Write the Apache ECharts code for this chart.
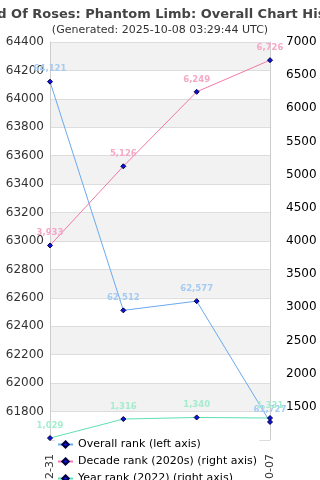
<!DOCTYPE html>
<html>
<head>
<meta charset="utf-8">
<script src="https://cdn.jsdelivr.net/npm/echarts@6/dist/echarts.min.js"></script>
<style>
  html, body { margin: 0; padding: 0; background: #fff; }
  #chart { width: 320px; height: 480px; }
</style>
</head>
<body>
<div id="chart"></div>
<script>
var dates = ['2022-12-31', '2023-12-31', '2024-12-31', '2025-10-07']
var overallRank = [64121, 62512, 62577, 61727]
var decadeRank = [3933, 5126, 6249, 6726]
var yearRank = [1029, 1316, 1340, 1331]

var font = 'DejaVu Sans'

function withComma(v) {
  return String(v).replace(/\B(?=(\d{3})+(?!\d))/g, ',')
}

function plain(v) {
  return String(v)
}

function rankSeries(name, data, axis, lineColor, labelColor) {
  return {
    name: name,
    type: 'line',
    yAxisIndex: axis,
    data: data,
    symbol: 'diamond',
    symbolSize: 5,
    itemStyle: { color: '#1010e0', borderColor: '#000040', borderWidth: 1 },
    lineStyle: { color: lineColor, width: 1 },
    label: {
      show: true,
      position: 'top',
      distance: 5,
      color: labelColor,
      fontFamily: font,
      fontSize: 8.5,
      fontWeight: 'bold',
      formatter: function (p) { return withComma(p.value) }
    },
    animation: false
  }
}

var chart = echarts.init(document.getElementById('chart'))
chart.setOption({
  textStyle: { fontFamily: font },
  title: [{
    text: 'Bed Of Roses: Phantom Limb: Overall Chart History',
    left: 162,
    textAlign: 'center',
    top: 3,
    textStyle: { fontFamily: font, fontSize: 13, fontWeight: 'bold', color: '#444' }
  }, {
    text: '(Generated: 2025-10-08 03:29:44 UTC)',
    left: 'center',
    top: 25,
    padding: 0,
    textStyle: { fontFamily: font, fontSize: 11, fontWeight: 'normal', color: '#333' }
  }],
  grid: { left: 50, right: 50, top: 42, bottom: 40, outerBoundsMode: 'none', containLabel: false },
  legend: {
    orient: 'vertical',
    left: 55,
    top: 437,
    height: 80,
    itemGap: 6,
    itemWidth: 15,
    itemHeight: 8,
    padding: [2, 2, 2, 2],
    backgroundColor: '#fff',
    textStyle: { fontFamily: font, fontSize: 11, color: '#000' }
  },
  xAxis: {
    type: 'category',
    data: dates,
    boundaryGap: false,
    axisLine: { show: false },
    axisTick: { show: false },
    axisLabel: { rotate: 90, fontSize: 11, color: '#333', margin: 14 },
    splitLine: { show: false }
  },
  yAxis: [{
    type: 'value',
    min: 61600,
    max: 64400,
    interval: 200,
    axisLine: { show: true, lineStyle: { color: '#ccc' } },
    axisTick: { show: false },
    axisLabel: { showMinLabel: false, fontSize: 12, color: '#333', margin: 6, formatter: plain },
    splitLine: { lineStyle: { color: '#ddd' } },
    splitArea: { show: true, areaStyle: { color: ['#fff', '#f2f2f2'] } }
  }, {
    type: 'value',
    min: 1000,
    max: 7000,
    interval: 500,
    axisLine: { show: true, lineStyle: { color: '#ccc' } },
    axisTick: { show: false },
    axisLabel: { showMinLabel: false, fontSize: 12, color: '#000', margin: 16, formatter: plain },
    splitLine: { show: false }
  }],
  series: [
    rankSeries('Overall rank (left axis)', overallRank, 0, '#6aaaf0', '#a6cbf2'),
    rankSeries('Decade rank (2020s) (right axis)', decadeRank, 1, '#f07aa8', '#f4a8c6'),
    rankSeries('Year rank (2022) (right axis)', yearRank, 1, '#5ee0b0', '#a6ecd0')
  ]
})
</script>
</body>
</html>
